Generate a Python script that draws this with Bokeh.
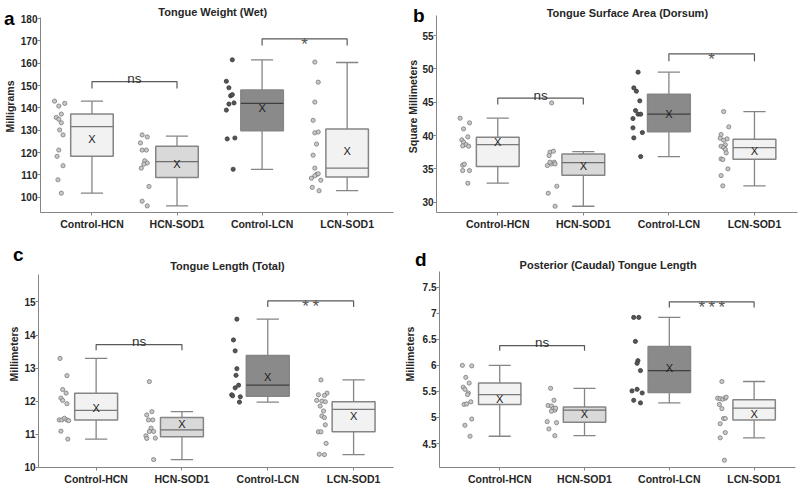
import numpy as np
from bokeh.plotting import figure
from bokeh.layouts import column, row
from bokeh.models import Range1d, FixedTicker, LinearAxis
from bokeh.core.properties import value
from bokeh.embed import file_html
from bokeh.resources import INLINE

categories = ["Control-HCN", "HCN-SOD1", "Control-LCN", "LCN-SOD1"]
cat_x = [1, 2, 3, 4]

# ---------------- Panel a: Tongue Weight (Wet), milligrams ----------------
a_q1 = [118.3, 108.8, 129.7, 109.0]
a_med = [131.6, 115.9, 142.0, 113.0]
a_q3 = [137.2, 122.8, 148.0, 130.5]
a_mean = [126.2, 114.7, 140.0, 120.7]
a_lo = [101.8, 96.1, 112.5, 102.9]
a_hi = [143.0, 127.3, 161.5, 160.3]
a_ch = [143.0, 140.8, 142.0, 135.7, 134.9, 133.3, 137.2, 130.1, 127.9, 121.1, 118.3, 114.1, 107.8, 101.8]
a_hs = [127.9, 127.0, 124.3, 121.1, 121.1, 116.3, 115.3, 114.8, 113.0, 104.8, 98.2, 96.1]
a_cl = [161.5, 151.9, 149.0, 145.4, 145.9, 141.7, 142.2, 139.0, 126.1, 126.5, 112.5]
a_ls = [160.5, 151.5, 142.6, 134.4, 128.8, 129.2, 123.8, 118.8, 113.0, 110.2, 110.5, 109.6, 108.5, 107.6, 104.4, 102.9]
a_ch_off = [-0.44, -0.39, -0.32, -0.42, -0.39, -0.36, -0.36, -0.38, -0.34, -0.39, -0.41, -0.34, -0.40, -0.36]
a_hs_off = [-0.41, -0.35, -0.43, -0.41, -0.36, -0.38, -0.35, -0.39, -0.42, -0.33, -0.41, -0.35]
a_cl_off = [-0.35, -0.42, -0.39, -0.37, -0.35, -0.39, -0.33, -0.42, -0.41, -0.32, -0.34]
a_ls_off = [-0.38, -0.34, -0.38, -0.40, -0.38, -0.34, -0.36, -0.40, -0.38, -0.36, -0.34, -0.38, -0.42, -0.31, -0.41, -0.33]
a_yticks = [100, 110, 120, 130, 140, 150, 160, 170, 180]
a_sig = ["ns", "*"]
a_br_y = [151.7, 170.9]
a_br_drop = [3.0, 3.0]

# ---------------- Panel b: Tongue Surface Area (Dorsum), mm^2 ----------------
b_q1 = [35.35, 34.05, 40.55, 36.45]
b_med = [38.65, 35.95, 43.2, 38.2]
b_q3 = [39.75, 37.25, 46.2, 39.45]
b_mean = [39.0, 35.5, 43.2, 37.65]
b_lo = [32.85, 29.4, 36.85, 32.45]
b_hi = [42.6, 37.6, 49.5, 43.6]
b_ch = [42.6, 41.9, 41.0, 39.8, 39.35, 39.0, 38.65, 38.4, 38.45, 35.55, 35.7, 34.75, 34.75, 32.85]
b_hs = [44.9, 37.5, 37.65, 37.0, 35.5, 35.75, 36.0, 35.75, 36.0, 32.4, 31.35, 29.4]
b_cl = [49.5, 47.15, 46.65, 45.2, 43.75, 42.55, 43.2, 43.2, 41.15, 40.45, 39.65, 36.85]
b_ls = [43.6, 41.3, 40.15, 39.6, 39.5, 39.3, 38.6, 38.4, 38.2, 37.9, 37.4, 36.5, 36.4, 35.0, 34.0, 32.45]
b_ch_off = [-0.44, -0.33, -0.40, -0.35, -0.42, -0.40, -0.37, -0.34, -0.41, -0.41, -0.39, -0.41, -0.33, -0.35]
b_hs_off = [-0.37, -0.39, -0.35, -0.40, -0.42, -0.37, -0.34, -0.33, -0.39, -0.31, -0.41, -0.33]
b_cl_off = [-0.36, -0.41, -0.38, -0.34, -0.39, -0.42, -0.36, -0.33, -0.42, -0.31, -0.41, -0.33]
b_ls_off = [-0.36, -0.30, -0.39, -0.40, -0.32, -0.36, -0.34, -0.39, -0.36, -0.34, -0.33, -0.39, -0.37, -0.31, -0.39, -0.37]
b_yticks = [30, 35, 40, 45, 50, 55]
b_sig = ["ns", "*"]
b_br_y = [45.6, 52.25]
b_br_drop = [0.95, 1.1]

# ---------------- Panel c: Tongue Length (Total), mm ----------------
c_q1 = [11.43, 10.92, 12.15, 11.07]
c_med = [11.72, 11.13, 12.48, 11.75]
c_q3 = [12.24, 11.50, 13.38, 11.98]
c_mean = [11.80, 11.30, 12.74, 11.55]
c_lo = [10.85, 10.23, 11.97, 10.38]
c_hi = [13.29, 11.68, 14.48, 12.64]
c_ch = [13.29, 12.77, 12.35, 12.24, 12.09, 12.02, 11.92, 11.43, 11.43, 11.48, 11.43, 11.41, 11.09, 10.85]
c_hs = [12.59, 11.68, 11.58, 11.43, 11.43, 11.18, 11.08, 11.08, 10.95, 10.87, 10.88, 10.23]
c_cl = [14.48, 13.85, 13.52, 12.98, 12.78, 12.48, 12.40, 12.19, 12.16, 12.13, 11.97]
c_ls = [12.64, 12.24, 12.19, 12.17, 12.02, 12.0, 11.98, 11.85, 11.70, 11.55, 11.50, 11.28, 11.07, 11.07, 10.72, 10.39, 10.38]
c_ch_off = [-0.42, -0.34, -0.39, -0.35, -0.41, -0.39, -0.34, -0.43, -0.40, -0.37, -0.34, -0.32, -0.41, -0.33]
c_hs_off = [-0.38, -0.35, -0.41, -0.39, -0.34, -0.36, -0.38, -0.33, -0.42, -0.41, -0.31, -0.33]
c_cl_off = [-0.36, -0.40, -0.38, -0.36, -0.37, -0.34, -0.38, -0.42, -0.41, -0.32, -0.33]
c_ls_off = [-0.38, -0.31, -0.41, -0.34, -0.43, -0.37, -0.33, -0.39, -0.35, -0.37, -0.34, -0.33, -0.41, -0.38, -0.32, -0.40, -0.34]
c_yticks = [10, 11, 12, 13, 14, 15]
c_sig = ["ns", "*\u2009*"]
c_br_y = [13.71, 15.03]
c_br_drop = [0.17, 0.18]

# ---------------- Panel d: Posterior (Caudal) Tongue Length, mm ----------------
d_q1 = [5.25, 4.91, 5.48, 4.95]
d_med = [5.44, 5.14, 5.90, 5.18]
d_q3 = [5.66, 5.20, 6.36, 5.34]
d_mean = [5.36, 5.06, 5.95, 5.07]
d_lo = [4.64, 4.65, 5.28, 4.61]
d_hi = [6.0, 5.56, 6.92, 5.69]
d_ch = [6.0, 5.99, 5.77, 5.66, 5.58, 5.54, 5.47, 5.44, 5.25, 5.26, 5.30, 4.97, 4.85, 4.64]
d_hs = [5.56, 5.33, 5.23, 5.22, 5.17, 5.14, 5.12, 5.18, 4.92, 4.90, 4.78, 4.65]
d_cl = [6.92, 6.92, 6.46, 6.09, 6.04, 5.90, 5.51, 5.54, 5.47, 5.33, 5.28]
d_ls = [5.69, 5.37, 5.36, 5.35, 5.37, 5.39, 5.25, 5.17, 4.98, 4.98, 4.88, 4.71, 4.61, 4.18]
d_ch_off = [-0.44, -0.33, -0.40, -0.36, -0.43, -0.41, -0.37, -0.38, -0.42, -0.39, -0.34, -0.33, -0.41, -0.35]
d_hs_off = [-0.40, -0.36, -0.43, -0.39, -0.37, -0.35, -0.39, -0.34, -0.44, -0.33, -0.42, -0.35]
d_cl_off = [-0.42, -0.36, -0.40, -0.37, -0.38, -0.34, -0.44, -0.38, -0.32, -0.42, -0.34]
d_ls_off = [-0.38, -0.43, -0.40, -0.37, -0.34, -0.33, -0.41, -0.38, -0.36, -0.34, -0.40, -0.34, -0.40, -0.35]
d_yticks = [4.5, 5, 5.5, 6, 6.5, 7, 7.5]
d_ytick_labels = ["4.5", "5", "5.5", "6", "6.5", "7", "7.5"]
d_sig = ["ns", "*\u2009*\u2009*"]
d_br_y = [6.38, 7.22]
d_br_drop = [0.10, 0.11]

# ---------------- styling ----------------
FONT = "Liberation Sans"
BOX_FILL = ["#f2f2f2", "#d9d9d9", "#8a8a8a", "#f2f2f2"]
MED_COL = ["#7a7a7a", "#6e6e6e", "#3f3f3f", "#7a7a7a"]
PT_FILL = ["#c8c8c8", "#c8c8c8", "#555555", "#c8c8c8"]
PT_LINE = ["#7a7a7a", "#7a7a7a", "#3a3a3a", "#7a7a7a"]
GREY = "#858585"


def make_panel(w, h, xr, yr, axis_top, yticks, ylabel, q1, med, q3, mean, lo, hi,
               groups, offsets, sig, br_y, br_drop, title, title_x, title_y,
               letter, letter_y, letter_standoff, ylabel_standoff, borders,
               tick_labels=None):
    p = figure(width=w, height=h, x_range=Range1d(*xr), y_range=Range1d(*yr),
               output_backend="svg", toolbar_location=None,
               min_border_left=borders[0], min_border_right=borders[1],
               min_border_top=borders[2], min_border_bottom=borders[3])
    p.outline_line_color = None
    p.grid.visible = False

    xax = p.xaxis[0]
    yax = p.yaxis[0]
    for ax in (xax, yax):
        ax.axis_line_color = GREY
        ax.axis_line_width = 1
        ax.major_tick_line_color = GREY
        ax.major_tick_in = 0
        ax.major_tick_out = 3
        ax.minor_tick_line_color = None
        ax.minor_tick_in = 0
        ax.minor_tick_out = 0
        ax.major_label_text_font = FONT
        ax.major_label_text_font_style = "bold"
        ax.major_label_text_color = "#262626"

    xax.ticker = FixedTicker(ticks=cat_x)
    xax.major_label_overrides = {x: c for x, c in zip(cat_x, categories)}
    xax.major_label_text_font_size = "10.5px"
    xax.major_label_standoff = 2

    yax.ticker = FixedTicker(ticks=yticks)
    yax.bounds = (yr[0], axis_top)
    yax.major_label_text_font_size = "10px"
    yax.major_label_standoff = 0
    if tick_labels is not None:
        yax.major_label_overrides = {t: s for t, s in zip(yticks, tick_labels)}
    yax.axis_label = ylabel
    yax.axis_label_text_font = FONT
    yax.axis_label_text_font_style = "bold"
    yax.axis_label_text_font_size = "10.5px"
    yax.axis_label_text_color = "#262626"
    yax.axis_label_standoff = ylabel_standoff

    # outer left axis carrying only the panel letter (placed over the corner)
    outer = LinearAxis(ticker=FixedTicker(ticks=[letter_y]),
                       major_label_overrides={letter_y: letter},
                       axis_line_color=None, major_tick_line_color=None,
                       minor_tick_line_color=None,
                       major_tick_out=0, major_tick_in=0,
                       minor_tick_out=0, minor_tick_in=0,
                       major_label_text_font=FONT,
                       major_label_text_font_style="bold",
                       major_label_text_font_size="19px",
                       major_label_text_color="#000000",
                       major_label_standoff=letter_standoff)
    p.add_layout(outer, "left")

    # jittered individual points
    for i in range(4):
        xs = [cat_x[i] + o for o in offsets[i]]
        p.scatter(xs, groups[i], size=4.2, fill_color=PT_FILL[i],
                  line_color=PT_LINE[i], line_width=0.8)

    x = np.array(cat_x, dtype=float)
    q1 = np.array(q1); q3 = np.array(q3); lo = np.array(lo); hi = np.array(hi)
    cap = 0.13
    p.segment(x, q3, x, hi, line_color=GREY, line_width=1.3)
    p.segment(x, q1, x, lo, line_color=GREY, line_width=1.3)
    p.segment(x - cap, hi, x + cap, hi, line_color=GREY, line_width=1.3)
    p.segment(x - cap, lo, x + cap, lo, line_color=GREY, line_width=1.3)
    p.vbar(x=x, width=0.5, bottom=q1, top=q3, fill_color=BOX_FILL,
           line_color=GREY, line_width=1.5)
    p.segment(x - 0.25, med, x + 0.25, med, line_color=MED_COL, line_width=1.3)
    p.text(x, mean, text=["X"] * 4, text_align="center", text_baseline="middle",
           text_font=value(FONT), text_font_size="11px", text_color="#1a1a1a")

    # significance brackets
    pairs = [(0, 1), (2, 3)]
    for (i0, i1), yb, dr, s in zip(pairs, br_y, br_drop, sig):
        xa, xb = cat_x[i0], cat_x[i1]
        p.line([xa, xa, xb, xb], [yb - dr, yb, yb, yb - dr],
               line_color="#595959", line_width=1.2)
        if s == "ns":
            p.text([(xa + xb) / 2], [yb], text=[s], text_align="center",
                   text_baseline="alphabetic", y_offset=-3,
                   text_font=value(FONT), text_font_size="13.5px",
                   text_color="#333333")
        else:
            p.text([(xa + xb) / 2], [yb], text=[s], text_align="center",
                   text_baseline="alphabetic", y_offset=6,
                   text_font=value(FONT), text_font_size="17px",
                   text_color="#555555")

    p.text([title_x], [title_y], text=[title], text_align="center",
           text_baseline="alphabetic", text_font=value(FONT),
           text_font_style="bold", text_font_size="11px", text_color="#262626")
    return p


pa = make_panel(400, 240, (0.395, 4.545), (93.15, 188.06), 180.3, a_yticks, "Milligrams",
                a_q1, a_med, a_q3, a_mean, a_lo, a_hi,
                [a_ch, a_hs, a_cl, a_ls], [a_ch_off, a_hs_off, a_cl_off, a_ls_off],
                a_sig, a_br_y, a_br_drop, "Tongue Weight (Wet)", 2.42, 182.7,
                "a", 186.8, -14, 2, (35, 7, 0, 28))
pb = make_panel(400, 240, (0.284, 4.503), (28.46, 60.25), 58.0, b_yticks, "Square Millimeters",
                b_q1, b_med, b_q3, b_mean, b_lo, b_hi,
                [b_ch, b_hs, b_cl, b_ls], [b_ch_off, b_hs_off, b_cl_off, b_ls_off],
                b_sig, b_br_y, b_br_drop, "Tongue Surface Area (Dorsum)", 2.517, 58.45,
                "b", 59.3, -20, 0, (36, 3, 0, 28))
pc = make_panel(400, 247, (0.3285, 4.465), (9.99, 16.86), 15.83, c_yticks, "Millimeters",
                c_q1, c_med, c_q3, c_mean, c_lo, c_hi,
                [c_ch, c_hs, c_cl, c_ls], [c_ch_off, c_hs_off, c_cl_off, c_ls_off],
                c_sig, c_br_y, c_br_drop, "Tongue Length (Total)", 2.53, 16.095,
                "c", 16.44, -18, 1, (38, 7, 0, 18))
pd = make_panel(400, 247, (0.290, 4.488), (4.04, 8.396), 7.8, d_yticks, "Millimeters",
                d_q1, d_med, d_q3, d_mean, d_lo, d_hi,
                [d_ch, d_hs, d_cl, d_ls], [d_ch_off, d_hs_off, d_cl_off, d_ls_off],
                d_sig, d_br_y, d_br_drop, "Posterior (Caudal) Tongue Length", 2.278, 7.922,
                "d", 8.03, -26, 4, (36, 5, 0, 18), tick_labels=d_ytick_labels)

layout = column(row(pa, pb), row(pc, pd))
open("out.html", "w").write(file_html(layout, INLINE))
